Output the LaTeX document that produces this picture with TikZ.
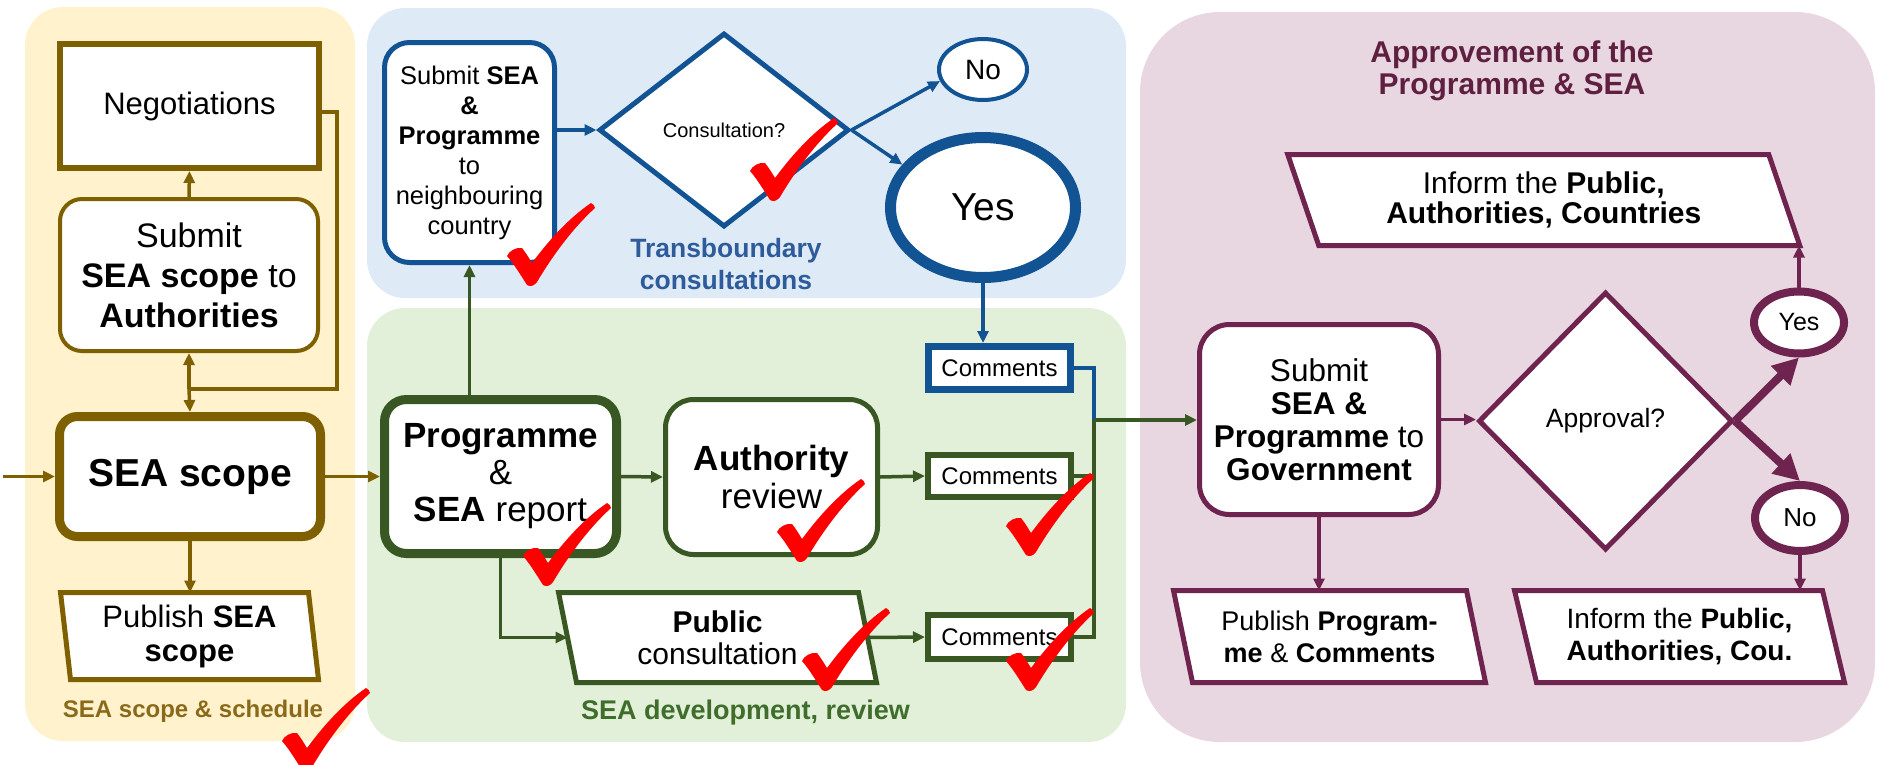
\documentclass[tikz,border=0pt]{standalone}
\usepackage{fontspec}
\setmainfont{Liberation Sans}
\usetikzlibrary{shapes.geometric,arrows.meta,calc}
\pgfdeclarelayer{panels}
\pgfdeclarelayer{shapes}
\pgfsetlayers{panels,shapes,main}

% palette
\definecolor{ybg}{HTML}{FFF2CC}
\definecolor{brn}{HTML}{7F6000}
\definecolor{brnlbl}{HTML}{8A6A1A}
\definecolor{bbg}{HTML}{DEEBF7}
\definecolor{bln}{HTML}{115393}
\definecolor{bltxt}{HTML}{2E5C9A}
\definecolor{gbg}{HTML}{E2F0D9}
\definecolor{grn}{HTML}{385723}
\definecolor{grntxt}{HTML}{3F6E2C}
\definecolor{pbg}{HTML}{E8D6E0}
\definecolor{mar}{HTML}{6E244E}
\definecolor{martxt}{HTML}{5F1F40}

\newcommand{\setfs}[2]{\fontsize{#1pt}{#2pt}\selectfont}
% parallelogram outline around a (plain) text node
\newcommand{\drawpara}[3]{%
  \draw[#3] ([xshift=-#2pt]#1.north west) -- ([xshift=-#2pt]#1.north east)
    -- ([xshift=#2pt]#1.south east) -- ([xshift=#2pt]#1.south west) -- cycle;}

\begin{document}
\begin{tikzpicture}[x=1pt,y=-1pt,
  every node/.style={inner sep=0pt, align=center},
  rbox/.style={rectangle, draw, fill=white},
  plain/.style={rectangle, minimum width=#1, outer sep=0pt},
  oval/.style={ellipse, draw, fill=white},
  decision/.style={diamond, draw, fill=white},
  barr/.style={draw=brn, line width=3.5pt, -{Triangle[length=12pt,width=11pt]}},
  bline/.style={draw=brn, line width=3.5pt},
  blarr/.style={draw=bln, line width=3.5pt, -{Triangle[length=12pt,width=11pt]}},
  blline/.style={draw=bln, line width=3.5pt},
  garr/.style={draw=grn, line width=3.5pt, -{Triangle[length=12pt,width=11pt]}},
  gline/.style={draw=grn, line width=3.5pt},
  marr/.style={draw=mar, line width=3.5pt, -{Triangle[length=12pt,width=11pt]}},
  mthick/.style={draw=mar, line width=8pt, -{Triangle[length=26pt,width=26pt]}},
  tick/.pic={\fill[red] (0,0) .. controls (-7,-11) and (-13,-21) .. (-20,-29)
      .. controls (-18,-34) and (-11,-38) .. (-5,-37)
      .. controls (-1,-32) and (2,-27) .. (5,-22)
      .. controls (22,-45) and (42,-67) .. (64,-82)
      .. controls (66,-81) and (68,-79) .. (68,-77)
      .. controls (46,-57) and (26,-30) .. (10,-3)
      .. controls (7,1) and (3,2) .. (0,0) -- cycle;}
]
\useasboundingbox (0,0) rectangle (1879,764);

% ---------- background panels ----------
\begin{pgfonlayer}{panels}
  \fill[ybg, rounded corners=38pt] (25,7) rectangle (355,741);
  \fill[bbg, rounded corners=38pt] (367,8) rectangle (1126,298);
  \fill[gbg, rounded corners=38pt] (367,308) rectangle (1126,742);
  \fill[pbg, rounded corners=80pt] (1140,12) rectangle (1875,742);
\end{pgfonlayer}

% ---------- SEA scope & schedule ----------
\node[rbox, draw=brn, line width=6pt, minimum width=259pt, minimum height=124pt,
      font=\setfs{31}{36}] (neg) at (189.5,106) {Negotiations};
\node[rbox, draw=brn, line width=4pt, rounded corners=22pt, minimum width=258pt,
      minimum height=152pt, font=\setfs{34}{40}] (sub) at (189,275)
      {Submit\\\textbf{SEA scope} to\\\textbf{Authorities}};
\node[rbox, draw=brn, line width=9pt, rounded corners=18pt, minimum width=261pt,
      minimum height=120pt, font=\bfseries\setfs{39}{44}] (scope) at (190,476.5) {SEA scope};
\node[plain=248pt, minimum height=87pt, font=\setfs{31}{34}] (pubs) at (189.5,636)
      {Publish \textbf{SEA}\\\textbf{scope}};
\node[font=\bfseries\setfs{24}{28}, text=brnlbl] (lbly) at (193,711) {SEA scope \& schedule};

% ---------- Transboundary consultations ----------
\node[rbox, draw=bln, line width=5pt, rounded corners=25pt, minimum width=170pt,
      minimum height=220pt, font=\setfs{25.5}{30}] (subm) at (469.5,152.5)
      {Submit \textbf{SEA}\\\textbf{\&}\\\textbf{Programme}\\to\\neighbouring\\country};
\node[decision, draw=bln, line width=5pt, minimum width=250pt, minimum height=194pt,
      font=\setfs{20}{24}] (dia) at (724,130) {Consultation?};
\node[oval, draw=bln, line width=4pt, minimum width=88pt, minimum height=61pt,
      font=\setfs{28}{32}] (no) at (983,69.5) {No};
\node[oval, draw=bln, line width=11pt, minimum width=185pt, minimum height=140pt,
      font=\setfs{39}{44}] (yes) at (983,207.5) {Yes};
\node[font=\bfseries\setfs{26.5}{32}, text=bltxt] (lblb) at (726,264)
      {Transboundary\\consultations};

% ---------- SEA development, review ----------
\node[rbox, draw=grn, line width=9pt, rounded corners=22pt, minimum width=232pt,
      minimum height=154pt, font=\setfs{35}{37}] (prog) at (500.5,476.5)
      {\textbf{Programme}\\\&\\\textbf{SEA} report};
\node[rbox, draw=grn, line width=5pt, rounded corners=28pt, minimum width=212pt,
      minimum height=155pt, font=\setfs{35}{38}] (auth) at (771.5,477)
      {\textbf{Authority}\\review};
\node[rbox, draw=bln, line width=7pt, minimum width=142pt, minimum height=43pt,
      font=\setfs{24}{28}] (com1) at (999.5,368) {Comments};
\node[rbox, draw=grn, line width=6pt, minimum width=143pt, minimum height=42pt,
      font=\setfs{24}{28}] (com2) at (999.5,476) {Comments};
\node[rbox, draw=grn, line width=6pt, minimum width=143pt, minimum height=44pt,
      font=\setfs{24}{28}] (com3) at (999.5,637) {Comments};
\node[plain=300pt, minimum height=90pt, font=\setfs{30}{32}] (pubc) at (717.5,637.5)
      {\textbf{Public}\\consultation};
\node[font=\bfseries\setfs{27}{32}, text=grntxt] (lblg) at (745.5,713)
      {SEA development, review};
\coordinate (jn) at (1094,420);

% ---------- Approvement of the Programme & SEA ----------
\node[font=\bfseries\setfs{30}{32}, text=martxt] (lblp) at (1512,71)
      {Approvement of the\\Programme \& SEA};
\node[plain=481pt, minimum height=91pt, font=\setfs{30}{30}] (inf1) at (1543.75,200)
      {Inform the \textbf{Public,}\\\textbf{Authorities, Countries}};
\node[rbox, draw=mar, line width=5pt, rounded corners=30pt, minimum width=239pt,
      minimum height=190pt, font=\setfs{31.5}{33}] (gov) at (1319,419.5)
      {Submit\\\textbf{SEA \&}\\\textbf{Programme} to\\\textbf{Government}};
\node[decision, draw=mar, line width=5pt, minimum width=254pt, minimum height=258pt,
      font=\setfs{26.5}{30}] (dia2) at (1605.5,421) {Approval?};
\node[oval, draw=mar, line width=8pt, minimum width=90pt, minimum height=62pt,
      font=\setfs{25}{28}] (yes2) at (1799,322.5) {Yes};
\node[oval, draw=mar, line width=8pt, minimum width=90pt, minimum height=66pt,
      font=\setfs{26}{28}] (no2) at (1800,518) {No};
\node[plain=293pt, minimum height=92pt, font=\setfs{27}{32}] (pp) at (1329.5,636.5)
      {Publish \textbf{Program-}\\\textbf{me} \& \textbf{Comments}};
\node[plain=308pt, minimum height=92pt, font=\setfs{28}{32}] (inf2) at (1679.5,636.5)
      {Inform the \textbf{Public,}\\\textbf{Authorities, Cou.}};

% ---------- parallelogram outlines ----------
\begin{pgfonlayer}{shapes}
  \drawpara{pubs}{5}{draw=brn, line width=5pt, fill=white}
  \drawpara{pubc}{9}{draw=grn, line width=5pt, fill=white}
  \drawpara{inf1}{15.5}{draw=mar, line width=5pt, fill=white}
  \drawpara{pp}{9.5}{draw=mar, line width=5pt, fill=white}
  \drawpara{inf2}{11}{draw=mar, line width=5pt, fill=white}
\end{pgfonlayer}

% ---------- connectors ----------
\coordinate (start) at (3,476.5);
\coordinate (fbc) at (337,389);
\draw[barr] (sub.north) -- (neg.south);
\draw[bline] ([yshift=-6pt]neg.east) -| (fbc) -- (fbc -| sub.south);
\draw[barr] (fbc -| sub.south) -- (sub.south);
\draw[barr] (fbc -| sub.south) -- (scope.north);
\draw[barr] (start) -- (scope.west);
\draw[barr] (scope.east) -- (prog.west);
\draw[barr] (scope.south) -- (scope.south |- pubs.north);

\draw[blarr] (subm.east |- dia.west) -- (dia.west);
\draw[blarr] (dia.east) -- (no.195);
\draw[blarr] (dia.east) -- (yes.152);
\draw[blarr] (yes.south) -- (yes.south |- com1.north);
\draw[blline] (com1.east) -| (jn);

\draw[garr] (subm.south |- prog.north) -- (subm.south);
\draw[garr] (prog.east) -- (auth.west);
\draw[garr] (auth.east) -- (com2.west);
\draw[garr] (prog.south) |- (pubc.west);
\draw[garr] (pubc.east) -- (com3.west);
\draw[gline] (com2.east) -| (jn);
\draw[gline] (com3.east) -| (jn);
\draw[garr] (jn) -- (jn -| gov.west);

\draw[marr] (gov.east) -- (gov.east -| dia2.west);
\draw[marr] (gov.south) -- (gov.south |- pp.north);
\draw[mthick] (dia2.east) -- (yes2.south);
\draw[mthick] (dia2.east) -- (no2.north);
\draw[marr] (yes2.north) -- (yes2.north |- inf1.south);
\draw[marr] (no2.south) -- (no2.south |- inf2.north);

% ---------- review ticks ----------
\pic at (527,285) {tick};
\pic at (770,200) {tick};
\pic at (543,585) {tick};
\pic at (797,561) {tick};
\pic at (1026,555) {tick};
\pic at (822,690) {tick};
\pic at (1026,690) {tick};
\pic at (302,770) {tick};
\end{tikzpicture}
\end{document}
